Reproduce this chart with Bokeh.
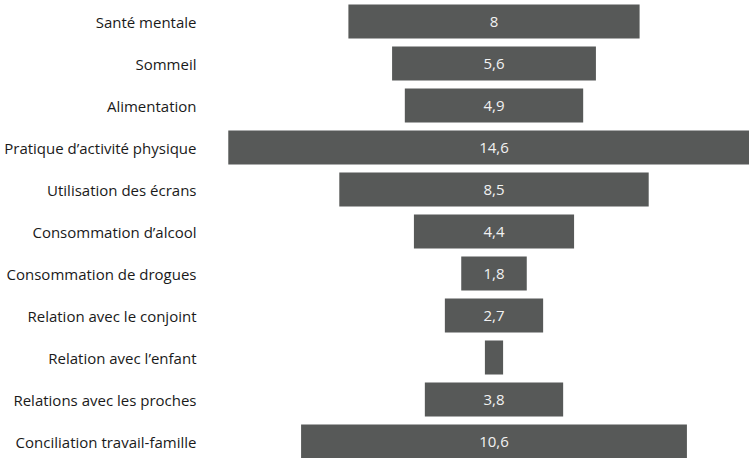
from bokeh.plotting import figure
from bokeh.models import ColumnDataSource, Range1d, FixedTicker
from bokeh.core.properties import value
from bokeh.embed import file_html
from bokeh.resources import INLINE

categories = [
    "Santé mentale",
    "Sommeil",
    "Alimentation",
    "Pratique d’activité physique",
    "Utilisation des écrans",
    "Consommation d’alcool",
    "Consommation de drogues",
    "Relation avec le conjoint",
    "Relation avec l’enfant",
    "Relations avec les proches",
    "Conciliation travail-famille",
]
values = [8, 5.6, 4.9, 14.6, 8.5, 4.4, 1.8, 2.7, 0.5, 3.8, 10.6]
labels = ["8", "5,6", "4,9", "14,6", "8,5", "4,4", "1,8", "2,7", "", "3,8", "10,6"]

n = len(categories)
ypos = [n - 0.5 - i for i in range(n)]
src = ColumnDataSource(dict(
    y=ypos,
    left=[-v / 2 for v in values],
    right=[v / 2 for v in values],
    x=[0] * n,
    label=labels,
))

FONT = "Open Sans"
W, H = 749, 458
frame_left = 205
pxu = 36.4
x0 = -(493.5 - frame_left) / pxu
x1 = (W - 493.5) / pxu

p = figure(width=W, height=H, output_backend="svg", toolbar_location=None,
           x_range=Range1d(x0, x1), y_range=Range1d(n - H / 42.0, n),
           min_border_left=frame_left, min_border_right=0,
           min_border_top=0, min_border_bottom=0)
p.hbar(y="y", left="left", right="right", height=0.81, source=src,
       color="#575958", line_color=None)
p.text(x="x", y="y", text="label", source=src, text_align="center",
       text_baseline="middle", text_color="#f2f2f2",
       text_font=value(FONT), text_font_size="15px")

p.xaxis.visible = False
p.grid.visible = False
p.outline_line_color = None
p.yaxis.ticker = FixedTicker(ticks=ypos)
p.yaxis.major_label_overrides = {y: c for y, c in zip(ypos, categories)}
p.yaxis.axis_line_color = None
p.yaxis.major_tick_line_color = None
p.yaxis.minor_tick_line_color = None
p.yaxis.major_tick_out = 0
p.yaxis.major_tick_in = 0
p.yaxis.major_label_standoff = 9
p.yaxis.major_label_text_font = FONT
p.yaxis.major_label_text_font_size = "15px"
p.yaxis.major_label_text_color = "#1a1a1a"

open("out.html", "w").write(file_html(p, INLINE))
